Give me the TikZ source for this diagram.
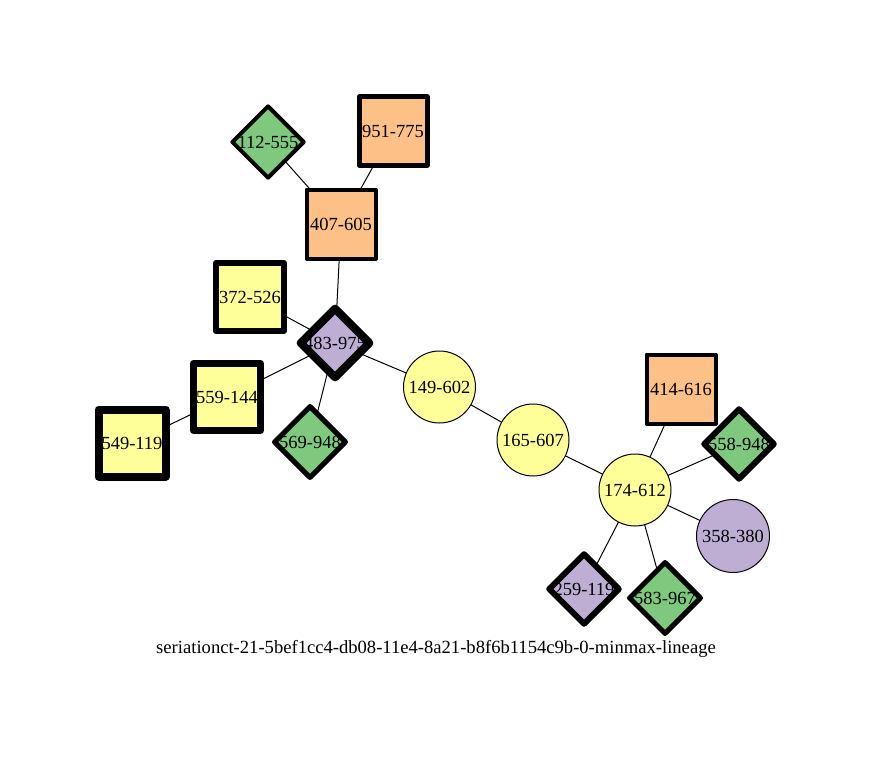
\documentclass[tikz,border=0pt]{standalone}
\usepackage{fontspec}
\setmainfont{Liberation Serif}
\usetikzlibrary{shapes.geometric,backgrounds}
\definecolor{accgreen}{HTML}{7FC97F}
\definecolor{accpurple}{HTML}{BEAED4}
\definecolor{accorange}{HTML}{FDC086}
\definecolor{accyellow}{HTML}{FFFF99}
\begin{document}
\begin{tikzpicture}[x=1pt,y=-1pt,
  every node/.style={font=\fontsize{18.5}{20}\selectfont, text=black},
  sq/.style={draw=black, rectangle, line join=round, inner sep=0pt, minimum size=#1},
  sq/.default=68,
  dia/.style={draw=black, diamond, aspect=1, line join=round, inner sep=0pt, minimum size=#1},
  dia/.default=72,
  circ/.style={draw=black, circle, line width=1pt, inner sep=0pt, minimum size=72},
  edge/.style={draw=black, line width=1pt}]
\useasboundingbox (0,0) rectangle (871,760);

% upper cluster
\node[dia=73, fill=accgreen, line width=4pt, label={center:112-555}] (n112) at (268,142) {};
\node[sq=68, fill=accorange, line width=5pt] (n951) at (393,131) {951-775};
\node[sq=69, fill=accorange, line width=4pt] (n407) at (341,224) {407-605};
\node[sq=68, fill=accyellow, line width=6pt] (n372) at (250,297) {372-526};
\node[dia=72, fill=accpurple, line width=8pt, label={center:483-975}] (n483) at (335,343) {};
\node[sq=67, fill=accyellow, line width=7pt] (n559) at (227,397) {559-144};
\node[sq=67, fill=accyellow, line width=8pt] (n549) at (132,443) {549-119};
\node[dia=73, fill=accgreen, line width=5pt, label={center:569-948}] (n569) at (310,442) {};

% chain of circles
\node[circ, fill=accyellow] (n149) at (439.5,387) {149-602};
\node[circ, fill=accyellow] (n165) at (533,440) {165-607};
\node[circ, fill=accyellow] (n174) at (635,490) {174-612};

% lower-right cluster
\node[sq=69, fill=accorange, line width=4pt] (n414) at (681,389) {414-616};
\node[dia=72, fill=accgreen, line width=6pt, label={center:558-948}] (n558) at (739,444) {};
\node[circ, fill=accpurple, minimum size=73] (n358) at (733,536) {358-380};
\node[dia=72, fill=accpurple, line width=6pt, label={center:259-119}] (n259) at (584,589) {};
\node[dia=73, fill=accgreen, line width=5pt, label={center:583-967}] (n583) at (665,598) {};

\node[font=\fontsize{18.6}{20}\selectfont] (cap) at (436,649) {seriationct-21-5bef1cc4-db08-11e4-8a21-b8f6b1154c9b-0-minmax-lineage};

\begin{pgfonlayer}{background}
  \draw[edge] (n112.center) -- (n407.center);
  \draw[edge] (n951.center) -- (n407.center);
  \draw[edge] (n407.center) -- (n483.center);
  \draw[edge] (n372.center) -- (n483.center);
  \draw[edge] (n559.center) -- (n483.center);
  \draw[edge] (n549.center) -- (n559.center);
  \draw[edge] (n569.center) -- (n483.center);
  \draw[edge] (n483.center) -- (n149.center);
  \draw[edge] (n149.center) -- (n165.center);
  \draw[edge] (n165.center) -- (n174.center);
  \draw[edge] (n174.center) -- (n414.center);
  \draw[edge] (n174.center) -- (n558.center);
  \draw[edge] (n174.center) -- (n358.center);
  \draw[edge] (n174.center) -- (n259.center);
  \draw[edge] (n174.center) -- (n583.center);
\end{pgfonlayer}
\end{tikzpicture}
\end{document}
